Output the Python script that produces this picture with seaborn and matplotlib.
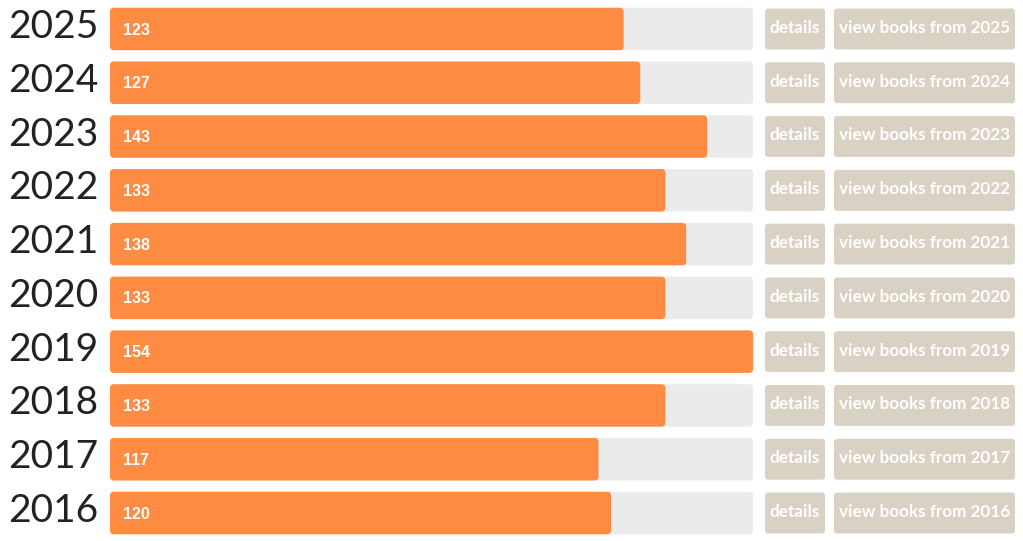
import numpy as np
import pandas as pd
import matplotlib
matplotlib.use("Agg")
import matplotlib.pyplot as plt
from matplotlib.patches import FancyBboxPatch
from matplotlib.transforms import ScaledTranslation
import seaborn as sns

# Data
years = ["2025", "2024", "2023", "2022", "2021", "2020", "2019", "2018", "2017", "2016"]
counts = [123, 127, 143, 133, 138, 133, 154, 133, 117, 120]
detail_label = "details"
view_label = "view books from {}"

ORANGE = "#FF8C42"
TRACK = "#EBEBEB"
BUTTON = "#D9D1C3"

df = pd.DataFrame({"year": years, "count": counts})
df["track"] = df["count"].max()

sns.set_style("white")
plt.rcParams["font.family"] = ["Lato", "DejaVu Sans"]

W, H = 1023, 541
fig = plt.figure(figsize=(W / 100, H / 100), dpi=100)

# bar area: 110px .. 753px
ax = fig.add_axes([110 / W, 1.1 / H, (753 - 110) / W, 537.8 / H])
sns.barplot(data=df, x="track", y="year", order=years, orient="h", color=TRACK,
            saturation=1, width=0.79, ax=ax)
sns.barplot(data=df, x="count", y="year", order=years, orient="h", color=ORANGE,
            saturation=1, width=0.79, ax=ax)
ax.set_xlim(0, df["track"].max())
ax.set_ylim(len(years) - 0.5, -0.5)


def round_patches(axis, radius_px=4):
    # swap the square bars for rounded ones
    bbox = axis.get_window_extent()
    x0, x1 = axis.get_xlim()
    y0, y1 = axis.get_ylim()
    px_x = bbox.width / abs(x1 - x0)
    px_y = bbox.height / abs(y1 - y0)
    for p in list(axis.patches):
        x, y, w, h = p.get_x(), p.get_y(), p.get_width(), p.get_height()
        fb = FancyBboxPatch((x, y), w, h,
                            boxstyle=f"round,pad=0,rounding_size={radius_px / px_x}",
                            mutation_aspect=px_x / px_y,
                            facecolor=p.get_facecolor(), edgecolor="none", zorder=p.get_zorder())
        p.remove()
        axis.add_patch(fb)


round_patches(ax)

for i, c in enumerate(counts):
    ax.text(3, i + 0.02, str(c), color="white", fontsize=11.5, fontweight="bold",
            family=["Liberation Sans", "DejaVu Sans"], va="center", ha="left")

ax.set_xlabel("")
ax.set_ylabel("")
ax.set_xticks([])
ax.tick_params(axis="y", length=0, pad=8.4, labelsize=28, labelcolor="#222222")
shift = ScaledTranslation(0, 0.055, fig.dpi_scale_trans)
for lab in ax.get_yticklabels():
    lab.set_transform(lab.get_transform() + shift)
for s in ax.spines.values():
    s.set_visible(False)

# buttons, x in pixels
bx = fig.add_axes([0, 1.1 / H, 1, 537.8 / H], sharey=ax)
bx.set_xlim(0, W)
bx.patch.set_alpha(0)
bx.axis("off")
bh = 0.76
for i, y in enumerate(years):
    for x0, w, label in [(765, 60, detail_label), (834, 181, view_label.format(y))]:
        bx.add_patch(FancyBboxPatch((x0, i - bh / 2), w, bh,
                                    boxstyle="round,pad=0,rounding_size=3",
                                    mutation_aspect=(537.8 / 10) ** -1,
                                    facecolor=BUTTON, edgecolor="none"))
        bx.text(x0 + w / 2, i - 0.02, label, color="white", fontsize=12.3, fontweight="bold",
                ha="center", va="center")

fig.savefig("out.png", dpi=100)
